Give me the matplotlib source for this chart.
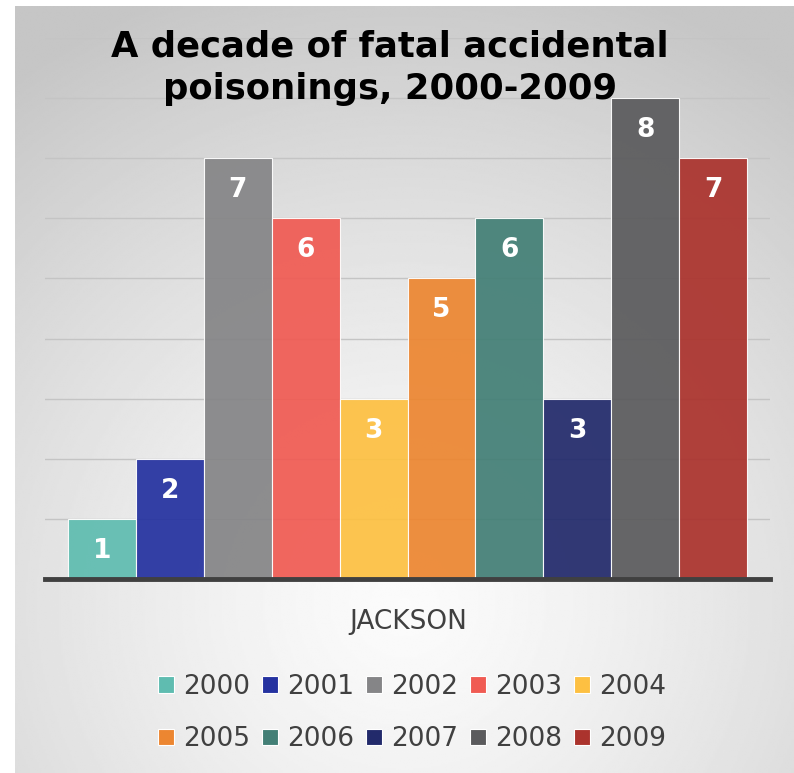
import numpy as np
import matplotlib
matplotlib.use("Agg")
import matplotlib.pyplot as plt
from matplotlib.patches import Patch

# data
years = ['2000', '2001', '2002', '2003', '2004', '2005', '2006', '2007', '2008', '2009']
deaths = [1, 2, 7, 6, 3, 5, 6, 3, 8, 7]
colors = ['#5fbcb0', '#2532a0', '#858587', '#f05b53', '#fdc042',
          '#ec8631', '#437f76', '#222a6b', '#5b5b5d', '#ab332d']
county = 'JACKSON'

W, H = 794, 773
fig = plt.figure(figsize=(W / 100, H / 100), dpi=100)
fig.patch.set_facecolor('white')

# panel with a radial grey gradient
bg = fig.add_axes([15 / W, 0, 1 - 15 / W, 1 - 6 / H])
yy, xx = np.mgrid[0:1:400j, 0:1:400j]
r = np.sqrt((xx - 0.5) ** 2 + (yy - 0.22) ** 2)
shade = 0.985 - 0.21 * np.clip(r / 0.85, 0, 1) ** 1.3
bg.imshow(shade, cmap='gray', vmin=0, vmax=1, origin='lower',
          extent=[0, 1, 0, 1], aspect='auto', interpolation='bilinear')
bg.axis('off')

ax = fig.add_axes([45 / W, (H - 579) / H, 725 / W, (579 - 38) / H])
ax.patch.set_alpha(0)

n = len(deaths)
x = np.arange(n) - (n - 1) / 2
ax.bar(x, deaths, width=1.0, color=colors, edgecolor='#ffffff99', linewidth=0.8,
       alpha=0.93, zorder=2)
for xi, v in zip(x, deaths):
    ax.text(xi, v - 0.53, str(v), ha='center', va='center', color='white',
            fontsize=19, fontweight='bold', zorder=4)

for g in range(1, 10):
    ax.axhline(g, color='#c4c4c4', linewidth=1.0, zorder=1)
ax.set_ylim(0, 9)
ax.set_xlim(-n / 2 - 0.34, n / 2 + 0.34)
for s in ['top', 'right', 'left']:
    ax.spines[s].set_visible(False)
ax.spines['bottom'].set_color('#404040')
ax.spines['bottom'].set_linewidth(3.5)
ax.spines['bottom'].set_zorder(5)
ax.set_xticks([])
ax.set_yticks([])

fig.text(408 / W, 1 - 622 / H, county, ha='center', va='center',
         fontsize=19, color='#404040')

fig.text(390 / W, 1 - 68 / H, 'A decade of fatal accidental\npoisonings, 2000-2009',
         ha='center', va='center', fontsize=25.5, fontweight='bold',
         color='black', linespacing=1.3)

# legend filled row by row (matplotlib fills column by column)
ncol = 5
order = [i for c in range(ncol) for i in range(c, n, ncol)]
handles = [Patch(facecolor=colors[i], edgecolor='white', linewidth=0.8) for i in order]
labels = [years[i] for i in order]
fig.legend(handles, labels, ncol=ncol, loc='center', bbox_to_anchor=(412 / W, 1 - 713 / H),
           frameon=False, fontsize=19, handlelength=0.6, handleheight=0.6,
           handletextpad=0.35, columnspacing=0.45, labelspacing=1.0,
           labelcolor='#404040')

fig.savefig('out.png', dpi=100)
